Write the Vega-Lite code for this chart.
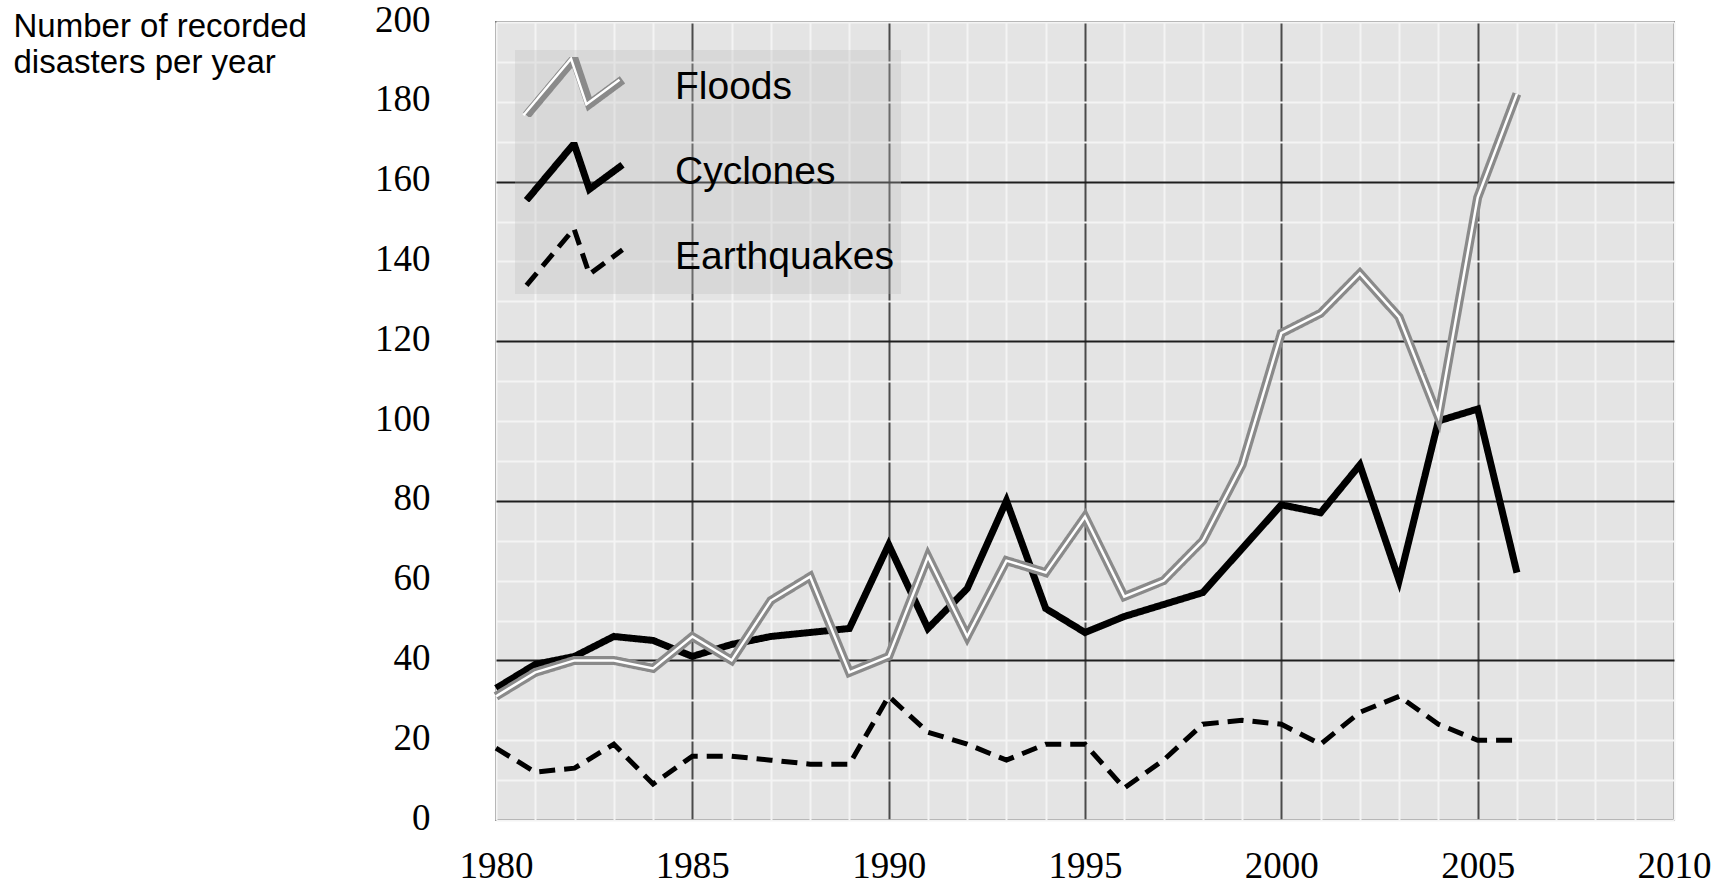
{
  "$schema": "https://vega.github.io/schema/vega-lite/v6.json",
  "width": 1178,
  "height": 798,
  "autosize": {"type": "none"},
  "padding": {"left": 496, "top": 22, "right": 52, "bottom": 64},
  "background": "white",
  "config": {"view": {"fill": "#e4e4e4", "stroke": "#7a7a7a", "strokeWidth": 2}},
  "data": {"values": [
    {"year": 1980, "Floods": 31, "Cyclones": 33, "Earthquakes": 18},
    {"year": 1981, "Floods": 37, "Cyclones": 39, "Earthquakes": 12},
    {"year": 1982, "Floods": 40, "Cyclones": 41, "Earthquakes": 13},
    {"year": 1983, "Floods": 40, "Cyclones": 46, "Earthquakes": 19},
    {"year": 1984, "Floods": 38, "Cyclones": 45, "Earthquakes": 9},
    {"year": 1985, "Floods": 46, "Cyclones": 41, "Earthquakes": 16},
    {"year": 1986, "Floods": 40, "Cyclones": 44, "Earthquakes": 16},
    {"year": 1987, "Floods": 55, "Cyclones": 46, "Earthquakes": 15},
    {"year": 1988, "Floods": 61, "Cyclones": 47, "Earthquakes": 14},
    {"year": 1989, "Floods": 37, "Cyclones": 48, "Earthquakes": 14},
    {"year": 1990, "Floods": 41, "Cyclones": 69, "Earthquakes": 31},
    {"year": 1991, "Floods": 66, "Cyclones": 48, "Earthquakes": 22},
    {"year": 1992, "Floods": 46, "Cyclones": 58, "Earthquakes": 19},
    {"year": 1993, "Floods": 65, "Cyclones": 80, "Earthquakes": 15},
    {"year": 1994, "Floods": 62, "Cyclones": 53, "Earthquakes": 19},
    {"year": 1995, "Floods": 76, "Cyclones": 47, "Earthquakes": 19},
    {"year": 1996, "Floods": 56, "Cyclones": 51, "Earthquakes": 8},
    {"year": 1997, "Floods": 60, "Cyclones": 54, "Earthquakes": 15},
    {"year": 1998, "Floods": 70, "Cyclones": 57, "Earthquakes": 24},
    {"year": 1999, "Floods": 89, "Cyclones": 68, "Earthquakes": 25},
    {"year": 2000, "Floods": 122, "Cyclones": 79, "Earthquakes": 24},
    {"year": 2001, "Floods": 127, "Cyclones": 77, "Earthquakes": 19},
    {"year": 2002, "Floods": 137, "Cyclones": 89, "Earthquakes": 27},
    {"year": 2003, "Floods": 126, "Cyclones": 60, "Earthquakes": 31},
    {"year": 2004, "Floods": 101, "Cyclones": 100, "Earthquakes": 24},
    {"year": 2005, "Floods": 156, "Cyclones": 103, "Earthquakes": 20},
    {"year": 2006, "Floods": 182, "Cyclones": 62, "Earthquakes": 20}
  ]},
  "transform": [{"fold": ["Earthquakes", "Cyclones", "Floods"], "as": ["series", "value"]}],
  "encoding": {
    "x": {
      "field": "year", "type": "quantitative",
      "scale": {"domain": [1980, 2010], "nice": false, "zero": false},
      "axis": {
        "values": [1980,1981,1982,1983,1984,1985,1986,1987,1988,1989,1990,1991,1992,1993,1994,1995,1996,1997,1998,1999,2000,2001,2002,2003,2004,2005,2006,2007,2008,2009,2010],
        "format": "d",
        "labelExpr": "datum.value % 5 === 0 ? datum.label : ''",
        "title": null,
        "domain": false,
        "ticks": false,
        "tickSize": 0,
        "labelFont": "Liberation Serif",
        "labelFontSize": 37,
        "labelColor": "black",
        "labelBaseline": "alphabetic",
        "labelPadding": 57,
        "labelFlush": false,
        "labelOverlap": false,
        "grid": true,
        "gridOpacity": 1,
        "gridColor": {"condition": {"test": "datum.value % 5 === 0 && datum.value > 1980 && datum.value < 2010", "value": "#4a4a4a"}, "value": "#f4f4f4"},
        "gridWidth": 2
      }
    },
    "y": {
      "field": "value", "type": "quantitative",
      "scale": {"domain": [0, 200], "nice": false},
      "axis": {
        "values": [0,10,20,30,40,50,60,70,80,90,100,110,120,130,140,150,160,170,180,190,200],
        "labelExpr": "datum.value % 20 === 0 ? datum.label : ''",
        "domain": false,
        "ticks": false,
        "tickSize": 0,
        "labelFont": "Liberation Serif",
        "labelFontSize": 37,
        "labelColor": "black",
        "labelPadding": 66,
        "labelOffset": -2,
        "labelFlush": false,
        "labelOverlap": false,
        "grid": true,
        "gridOpacity": 1,
        "gridColor": {"condition": {"test": "datum.value % 40 === 0 && datum.value > 0 && datum.value < 200", "value": "#1e1e1e"}, "value": "#f4f4f4"},
        "gridWidth": 2,
        "title": ["Number of recorded", "disasters per year"],
        "titleAngle": 0,
        "titleX": -483,
        "titleY": -12,
        "titleAlign": "left",
        "titleBaseline": "top",
        "titleFont": "Liberation Sans",
        "titleFontSize": 33,
        "titleFontWeight": "normal",
        "titleLineHeight": 36,
        "titleColor": "black"
      }
    }
  },
  "layer": [
    {
      "mark": {"type": "line", "strokeJoin": "miter", "strokeCap": "butt"},
      "encoding": {
        "color": {
          "field": "series", "type": "nominal",
          "scale": {"domain": ["Floods", "Cyclones", "Earthquakes"], "range": ["#8a8a8a", "#000000", "#000000"]},
          "legend": {
            "orient": "none", "legendX": 19, "legendY": 28, "title": null,
            "symbolType": "M-1,0.59L-0.01,-0.59L0.31,0.36L1,-0.15",
            "symbolSize": 9216, "clipHeight": 60, "rowPadding": 25, "padding": 7,
            "labelOffset": 48, "labelFont": "Liberation Sans", "labelFontSize": 39,
            "labelColor": "black", "labelLimit": 400,
            "fillColor": "rgba(190,190,190,0.3)",
            "symbolFillColor": "transparent"
          }
        },
        "strokeWidth": {
          "field": "series", "type": "nominal",
          "scale": {"domain": ["Floods", "Cyclones", "Earthquakes"], "range": [9, 5, 5]}
        },
        "strokeDash": {
          "field": "series", "type": "nominal",
          "scale": {"domain": ["Floods", "Cyclones", "Earthquakes"], "range": [[1, 0], [1, 0], [16, 9]]}
        }
      }
    },
    {
      "transform": [{"filter": "datum.series === 'Floods'"}],
      "mark": {"type": "line", "color": "white", "strokeWidth": 2.5, "strokeJoin": "miter"},
      "encoding": {
        "opacity": {
          "field": "series", "type": "nominal",
          "scale": {"domain": ["Floods"], "range": [1]},
          "legend": {
            "orient": "none", "legendX": 19, "legendY": 28, "title": null,
            "symbolType": "M-1,0.59L-0.01,-0.59L0.31,0.36L1,-0.15",
            "symbolSize": 9216, "clipHeight": 60, "rowPadding": 25, "padding": 7,
            "labelOffset": 48, "labelFont": "Liberation Sans", "labelFontSize": 39,
            "labelExpr": "''", "labelColor": "transparent", "labelLimit": 400,
            "symbolStrokeColor": "white", "symbolStrokeWidth": 2.5, "symbolFillColor": "transparent"
          }
        }
      }
    }
  ]
}
